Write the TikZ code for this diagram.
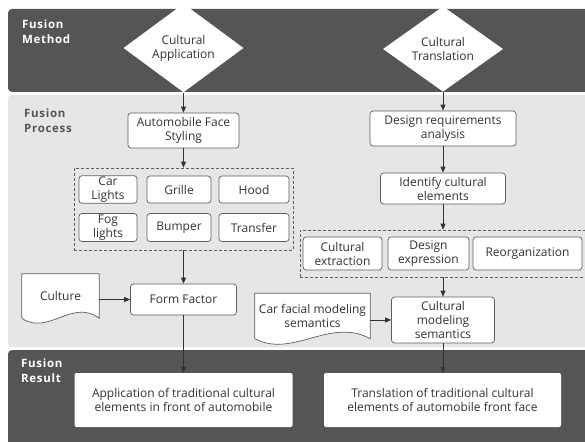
\documentclass[tikz,border=0pt]{standalone}
\usepackage{fontspec}
\setmainfont{Open Sans}
\newfontfamily\labfont{Open Sans}[LetterSpace=6.0]
\usetikzlibrary{shapes.geometric,arrows.meta,backgrounds}
\definecolor{banddark}{HTML}{555555}
\definecolor{bandlight}{HTML}{E6E6E6}
\definecolor{ink}{HTML}{333333}
\definecolor{edge}{HTML}{5E5E5E}

\begin{document}
\begin{tikzpicture}[x=1pt,y=-1pt,
  every node/.style={font=\fontsize{12}{14}\selectfont, text=ink},
  box/.style={draw=edge, fill=white, rounded corners=3pt, align=center, inner sep=1pt, line width=0.7pt},
  res/.style={fill=white, rounded corners=2pt, align=center, minimum height=54pt},
  dia/.style={diamond, fill=white, inner sep=0pt, align=center, minimum width=120pt, minimum height=64pt},
  grp/.style={draw=edge, dash pattern=on 3pt off 2pt, line width=0.7pt},
  doc/.style={align=center, inner sep=0pt},
  docline/.style={draw=edge, fill=white, line width=0.7pt},
  lab/.style={anchor=north west, align=left, inner sep=0pt, font=\labfont\bfseries\fontsize{11.5}{15}\selectfont},
  arr/.style={-{Triangle[length=6pt,width=5pt]}, draw=ink, line width=0.8pt}]
\useasboundingbox (0,0) rectangle (585,441);
\clip (0,0) rectangle (585,441);

% section titles
\node[lab, text=white] (lmeth) at (22,20) {Fusion\\Method};
\node[lab, text=banddark] (lproc) at (24,109) {Fusion\\Process};
\node[lab, text=white] (lres) at (21,359) {Fusion\\Result};

% left column
\node[dia] (capp) at (183.5,48) {Cultural\\Application};
\node[box, minimum width=111pt, minimum height=35pt] (afs) at (183.5,130.5) {Automobile Face\\Styling};
\node[box, minimum width=58pt, minimum height=27pt] (clig) at (108,189.5) {Car\\Lights};
\node[box, minimum width=64pt, minimum height=27pt] (grille) at (179,189.5) {Grille};
\node[box, minimum width=70pt, minimum height=27pt] (hood) at (254,189.5) {Hood};
\node[box, minimum width=58pt, minimum height=28pt] (fogl) at (108,227.5) {Fog\\lights};
\node[box, minimum width=64pt, minimum height=28pt] (bump) at (179,227.5) {Bumper};
\node[box, minimum width=70pt, minimum height=28pt] (transf) at (254,227.5) {Transfer};
\node[grp, minimum width=219pt, minimum height=82pt] (grpa) at (183.5,209) {};
\node[box, minimum width=106pt, minimum height=31pt] (ff) at (183.5,299.5) {Form Factor};
\node[doc, minimum width=77pt, minimum height=44pt] (cult) at (60.5,296) {Culture};
\node[res, minimum width=218pt] (aptrad) at (183.5,400) {Application of traditional cultural\\elements in front of automobile};

% right column
\node[dia] (ctrans) at (443,49) {Cultural\\Translation};
\node[box, minimum width=146pt, minimum height=35pt] (dra) at (443,128.5) {Design requirements\\analysis};
\node[box, minimum width=125pt, minimum height=31pt] (ice) at (443,188.5) {Identify cultural\\elements};
\node[box, minimum width=79pt, minimum height=33pt] (cext) at (342.5,253.5) {Cultural\\extraction};
\node[box, minimum width=81pt, minimum height=33pt] (dexp) at (428.5,253.5) {Design\\expression};
\node[box, minimum width=109pt, minimum height=33pt] (reorg) at (527.5,253.5) {Reorganization};
\node[grp, minimum width=292pt, minimum height=47pt] (grpb) at (446,253.5) {};
\node[doc, minimum width=115pt, minimum height=45pt] (cfms) at (312.5,316) {Car facial modeling\\semantics};
\node[box, minimum width=103pt, minimum height=46pt] (cms) at (443,320) {Cultural\\modeling\\semantics};
\node[res, minimum width=237pt] (trtrad) at (442.5,400) {Translation of traditional cultural\\elements of automobile front face};

% connectors
\draw[arr] (capp) -- (afs);
\draw[arr] (afs) -- (grpa);
\draw[arr] (grpa) -- (ff);
\draw[arr] (cult.east |- ff.west) -- (ff.west);
\draw[arr] (ff) -- (aptrad);
\draw[arr] (ctrans) -- (dra);
\draw[arr] (dra) -- (ice);
\draw[arr] (ice) -- (grpb.north -| ice);
\draw[arr] (grpb.south -| cms) -- (cms);
\draw[arr] (cfms.east |- cms.west) -- (cms.west);
\draw[arr] (cms) -- (trtrad.north -| cms);

\begin{scope}[on background layer]
\fill[banddark, rounded corners=4pt] (8,9) rectangle (600,92);
\fill[bandlight, rounded corners=4pt] (8,95) rectangle (600,347);
\fill[banddark, rounded corners=4pt] (8,350) rectangle (600,460);
\draw[docline] (cult.south west) -- (cult.north west) -- (cult.north east) -- (cult.south east)
  .. controls +(-27,-20) and +(26,18) .. (cult.south west);
\draw[docline] (cfms.south west) -- (cfms.north west) -- (cfms.north east) -- (cfms.south east)
  .. controls +(-40,-22) and +(38,20) .. (cfms.south west);
\end{scope}
\end{tikzpicture}
\end{document}
